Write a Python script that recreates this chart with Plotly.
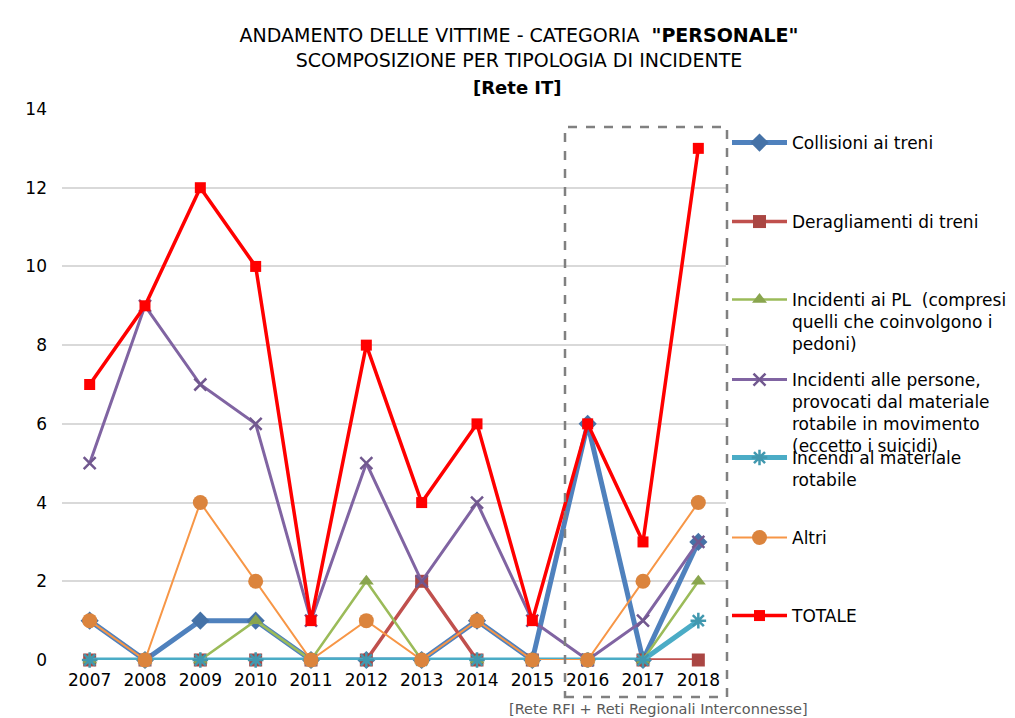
import plotly.graph_objects as go

years = ["2007", "2008", "2009", "2010", "2011", "2012", "2013", "2014", "2015", "2016", "2017", "2018"]
collisioni = [1, 0, 1, 1, 0, 0, 0, 1, 0, 6, 0, 3]
deragliamenti = [0, 0, 0, 0, 0, 0, 2, 0, 0, 0, 0, 0]
incidenti_pl = [0, 0, 0, 1, 0, 2, 0, 0, 0, 0, 0, 2]
incidenti_persone = [5, 9, 7, 6, 1, 5, 2, 4, 1, 0, 1, 3]
incendi = [0, 0, 0, 0, 0, 0, 0, 0, 0, 0, 0, 1]
altri = [1, 0, 4, 2, 0, 1, 0, 1, 0, 0, 2, 4]
totale = [7, 9, 12, 10, 1, 8, 4, 6, 1, 6, 3, 13]

names = [
    "Collisioni ai treni",
    "Deragliamenti di treni",
    "Incidenti ai PL  (compresi<br>quelli che coinvolgono i<br>pedoni)",
    "Incidenti alle persone,<br>provocati dal materiale<br>rotabile in movimento<br>(eccetto i suicidi)",
    "Incendi al materiale<br>rotabile",
    "Altri",
    "TOTALE",
]
series = [collisioni, deragliamenti, incidenti_pl, incidenti_persone, incendi, altri, totale]
line_colors = ["#4F81BD", "#C0504D", "#9BBB59", "#8064A2", "#4BACC6", "#F79646", "#FF0000"]
marker_colors = ["#4572A7", "#AA4643", "#89A54E", "#71588F", "#4198AF", "#DB843D", "#FF0000"]
line_widths = [5, 3.5, 2.5, 3, 5, 2, 3.5]
symbols = ["diamond", "square", "triangle-up", "x-thin", "asterisk", "circle", "square"]
msizes = [14, 13, 13, 12, 13, 15, 11]

FONT = "DejaVu Sans"

# pixel layout helpers
W, H = 1015, 718
L, R, T, B = 62, 726, 109, 660
def px_x(p):
    return (p - L) / (R - L)
def px_y(p):
    return (B - p) / (B - T)

fig = go.Figure()
legend_ys = [143, 222, 300, 380, 458, 538, 616]
for i, (nm, vals) in enumerate(zip(names, series)):
    lg = "legend" if i == 0 else f"legend{i+1}"
    mk = dict(symbol=symbols[i], size=msizes[i], color=marker_colors[i])
    if symbols[i] in ("x-thin", "asterisk"):
        mk["line"] = dict(color=marker_colors[i], width=2.5)
    fig.add_trace(go.Scatter(
        x=years, y=vals, name=nm, mode="lines+markers",
        line=dict(color=line_colors[i], width=line_widths[i]),
        marker=mk, cliponaxis=False, legend=lg, showlegend=True,
    ))

layout_legends = {}
for i, py in enumerate(legend_ys):
    key = "legend" if i == 0 else f"legend{i+1}"
    layout_legends[key] = dict(
        x=px_x(727), y=px_y(py - 18), xanchor="left", yanchor="top",
        bgcolor="rgba(0,0,0,0)", borderwidth=0, valign="top",
        font=dict(family=FONT, size=17, color="#000000"),
        itemwidth=55, tracegroupgap=0,
    )

fig.update_layout(
    width=W, height=H, showlegend=True,
    margin=dict(l=L, r=W - R, t=T, b=H - B, autoexpand=False),
    paper_bgcolor="white", plot_bgcolor="white",
    font=dict(family=FONT, size=17, color="#000000"),
    title=dict(
        text='ANDAMENTO DELLE VITTIME - CATEGORIA  <b>"PERSONALE"</b><br>SCOMPOSIZIONE PER TIPOLOGIA DI INCIDENTE',
        x=519 / W, xanchor="center", xref="container",
        y=1 - 42 / H, yanchor="top", yref="container",
        font=dict(family=FONT, size=19, color="#000000"),
    ),
    xaxis=dict(
        type="category", range=[-0.5, 11.5], showgrid=False, zeroline=False, showline=False,
        ticks="", tickfont=dict(family=FONT, size=17, color="#000000"),
        ticklabelstandoff=8,
    ),
    yaxis=dict(
        range=[0, 14], dtick=2, showgrid=True, gridcolor="#D9D9D9", gridwidth=1.5,
        zeroline=False, showline=False, ticks="",
        tickfont=dict(family=FONT, size=17, color="#000000"),
        ticklabelstandoff=14,
    ),
    **layout_legends,
)

fig.add_annotation(
    text="<b>[Rete IT]</b>",
    xref="paper", yref="paper", x=px_x(517), y=px_y(87),
    xanchor="center", yanchor="middle", showarrow=False,
    font=dict(family=FONT, size=18, color="#000000"),
)

fig.add_shape(
    type="rect", xref="paper", yref="paper",
    x0=px_x(565), x1=px_x(727), y0=px_y(697), y1=px_y(127),
    line=dict(color="#808080", width=2.5, dash="dash"), fillcolor="rgba(0,0,0,0)",
)

fig.add_annotation(
    text="[Rete RFI + Reti Regionali Interconnesse]",
    xref="paper", yref="paper", x=px_x(658), y=px_y(709),
    xanchor="center", yanchor="middle", showarrow=False,
    font=dict(family=FONT, size=14.5, color="#595959"),
)

fig.write_html("out.html", config={"displayModeBar": False},
               post_script="document.body.style.margin='0';document.body.style.padding='0';")
